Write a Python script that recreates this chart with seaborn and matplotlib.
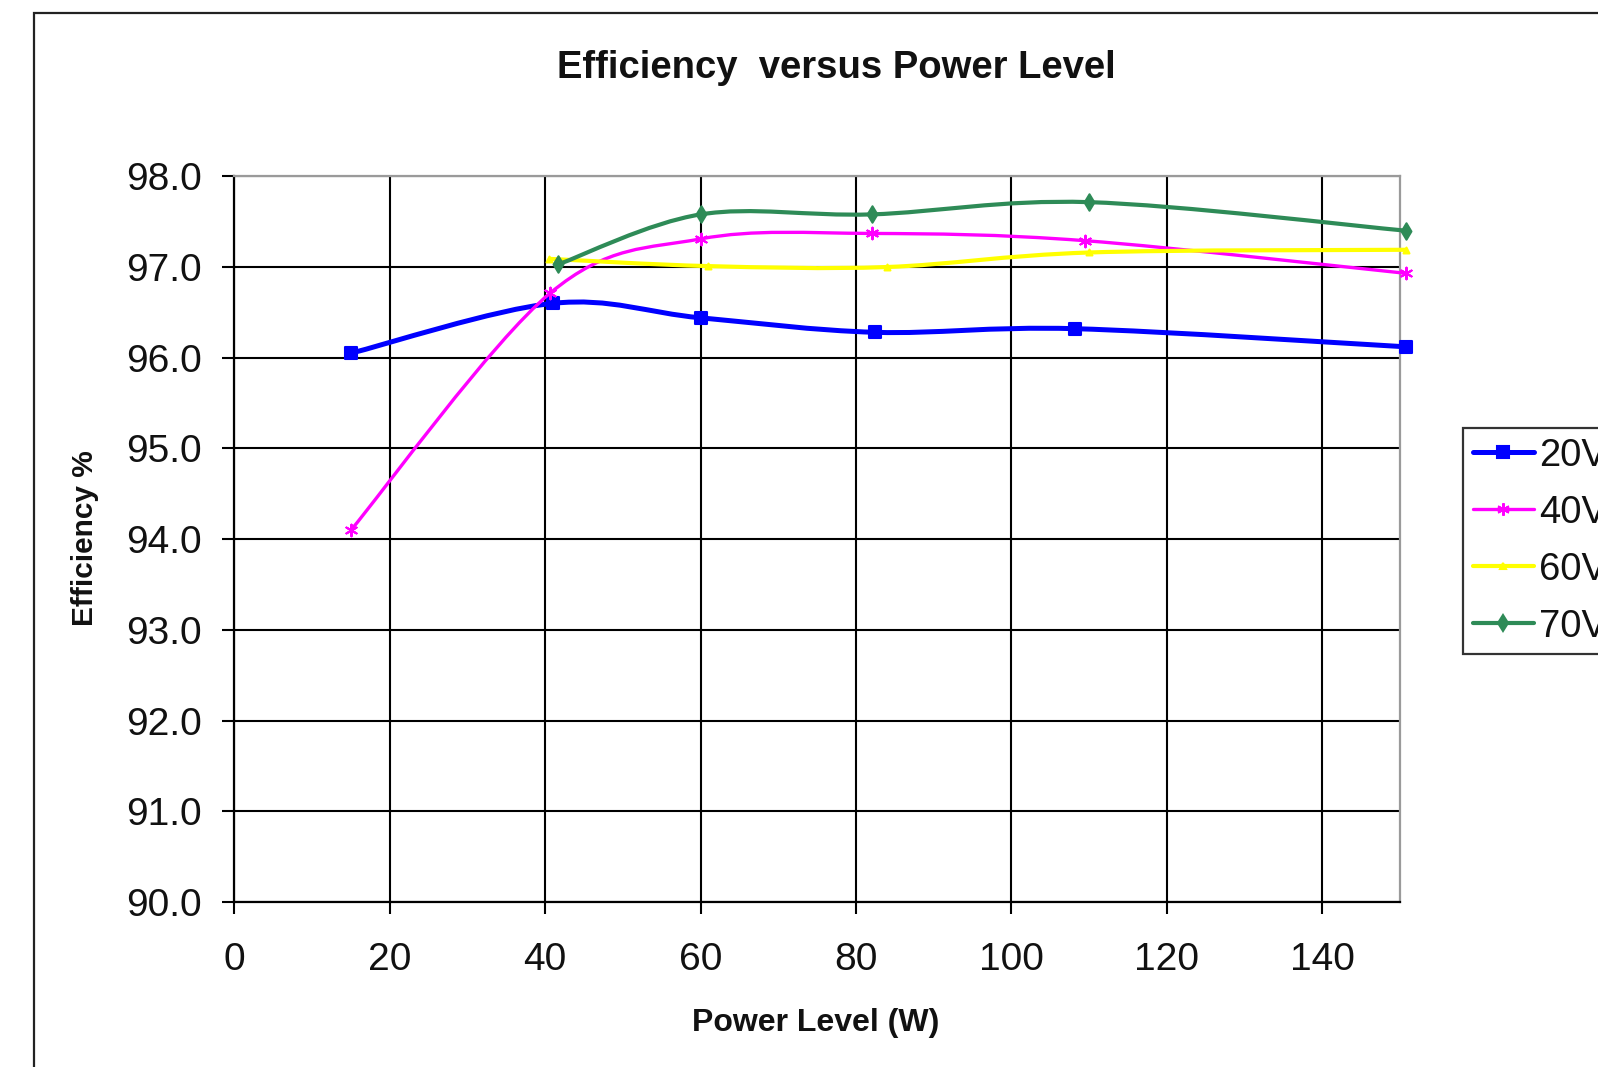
import numpy as np
import pandas as pd
import matplotlib
matplotlib.use("Agg")
import matplotlib.pyplot as plt
import seaborn as sns
from matplotlib.path import Path
from matplotlib.patches import PathPatch, Rectangle
from matplotlib.lines import Line2D

# ---------------- data ----------------
series_names = ["20V", "40V", "60V", "70V"]
power_20v = [15.0, 41.0, 60.0, 82.5, 108.2, 150.8]
eff_20v = [96.05, 96.60, 96.44, 96.28, 96.32, 96.12]
power_40v = [15.0, 40.6, 60.0, 82.0, 109.5, 150.8]
eff_40v = [94.10, 96.71, 97.31, 97.37, 97.29, 96.93]
power_60v = [40.5, 61.0, 84.0, 110.0, 150.8]
eff_60v = [97.09, 97.01, 97.00, 97.16, 97.19]
power_70v = [41.7, 60.0, 82.0, 110.0, 150.8]
eff_70v = [97.03, 97.58, 97.58, 97.715, 97.40]

x_ticks = [0, 20, 40, 60, 80, 100, 120, 140]
y_ticks = [90.0, 91.0, 92.0, 93.0, 94.0, 95.0, 96.0, 97.0, 98.0]

title_text = "Efficiency  versus Power Level"
xlabel_text = "Power Level (W)"
ylabel_text = "Efficiency %"

# ---------------- style ----------------
sns.set_style("white")
plt.rcParams["font.family"] = ["Liberation Sans", "DejaVu Sans"]

styles = {
    "20V": dict(color="#0000FF", lw=3.6, marker="s", s=70, ms=9),
    "40V": dict(color="#FF00FF", lw=2.4, marker=(6, 2, 0), s=70, ms=9),
    "60V": dict(color="#FFFF00", lw=3.0, marker="^", s=18, ms=4),
    "70V": dict(color="#2E8B57", lw=3.0, marker="d", s=70, ms=8),
}
data = {
    "20V": (power_20v, eff_20v),
    "40V": (power_40v, eff_40v),
    "60V": (power_60v, eff_60v),
    "70V": (power_70v, eff_70v),
}

W, H = 1598, 1067
fig = plt.figure(figsize=(W / 100, H / 100), dpi=100)
ax = fig.add_axes([234.4 / W, 1 - 902 / H, (1400 - 234.4) / W, (902 - 176.3) / H])

ax.set_xlim(0, 150)
ax.set_ylim(90, 98)
ax.set_xticks(x_ticks)
ax.set_yticks(y_ticks)
ax.set_yticklabels([f"{v:.1f}" for v in y_ticks])
ax.set_xticklabels([str(v) for v in x_ticks])
ax.grid(True, color="black", lw=1.5)
ax.set_axisbelow(True)

for side in ["left", "bottom"]:
    ax.spines[side].set_color("black")
    ax.spines[side].set_linewidth(1.6)
for side in ["top", "right"]:
    ax.spines[side].set_color("#9a9a9a")
    ax.spines[side].set_linewidth(1.6)

ax.tick_params(axis="both", direction="out", length=8.5, width=1.5, color="black",
               labelsize=28, labelcolor="#111111")
ax.tick_params(axis="y", pad=15, left=True)
ax.tick_params(axis="x", pad=20, bottom=True)


def smooth_path(xs, ys):
    """Excel-like smoothed line (Catmull-Rom as cubic Bezier) through data points."""
    pts = np.column_stack([xs, ys]).astype(float)
    n = len(pts)
    verts = [pts[0]]
    codes = [Path.MOVETO]
    for i in range(n - 1):
        p0 = pts[i - 1] if i > 0 else pts[i]
        p1 = pts[i]
        p2 = pts[i + 1]
        p3 = pts[i + 2] if i + 2 < n else pts[i + 1]
        c1 = p1 + (p2 - p0) / 6.0
        c2 = p2 - (p3 - p1) / 6.0
        verts += [c1, c2, p2]
        codes += [Path.CURVE4] * 3
    return Path(verts, codes)


handles = []
for k, name in enumerate(series_names):
    xs, ys = data[name]
    st = styles[name]
    patch = PathPatch(smooth_path(xs, ys), fill=False, edgecolor=st["color"],
                      lw=st["lw"], transform=ax.transData, clip_on=False,
                      zorder=3 + k, capstyle="butt", joinstyle="round")
    ax.add_patch(patch)
    sns.scatterplot(x=xs, y=ys, ax=ax, marker=st["marker"], s=st["s"],
                    color=st["color"], edgecolor=st["color"], linewidth=1.5,
                    clip_on=False, zorder=3.5 + k, legend=False)
    handles.append(Line2D([], [], color=st["color"], lw=st["lw"], marker=st["marker"],
                          ms=st["ms"], mec=st["color"], mfc=st["color"], mew=1.5))

leg = fig.legend(handles, series_names, loc="upper left",
                 bbox_to_anchor=(1463 / W, 1 - 428 / H), fontsize=27.5,
                 frameon=True, fancybox=False, shadow=False, edgecolor="black",
                 handlelength=1.62, handletextpad=0.12, borderpad=0.25,
                 labelspacing=0.55, borderaxespad=0.0)
leg.get_frame().set_linewidth(1.6)
for t in leg.get_texts():
    t.set_color("#111111")

fig.text(836.7 / W, 1 - 68 / H, title_text, ha="center", va="center",
         fontsize=27.5, fontweight="bold", color="#111111")
ax.set_xlabel(xlabel_text, fontsize=23, fontweight="bold", color="#111111")
ax.xaxis.set_label_coords((816 - 234.4) / (1400 - 234.4), (902 - 1023) / (902 - 176.3))
ax.xaxis.label.set_va("center")
ax.set_ylabel(ylabel_text, fontsize=21.5, fontweight="bold", color="#111111")
ax.yaxis.set_label_coords((85 - 234.4) / (1400 - 234.4), (902 - 538) / (902 - 176.3))
ax.yaxis.label.set_va("center")
ax.yaxis.label.set_ha("center")

# outer chart-area border (cut off at right and bottom in the reference)
fig.patches.append(Rectangle((34 / W, -0.05), 1.2, (1 - 13 / H) + 0.05,
                             transform=fig.transFigure, fill=False,
                             edgecolor="#222222", lw=1.6, zorder=0))

fig.savefig("out.png", dpi=100)
